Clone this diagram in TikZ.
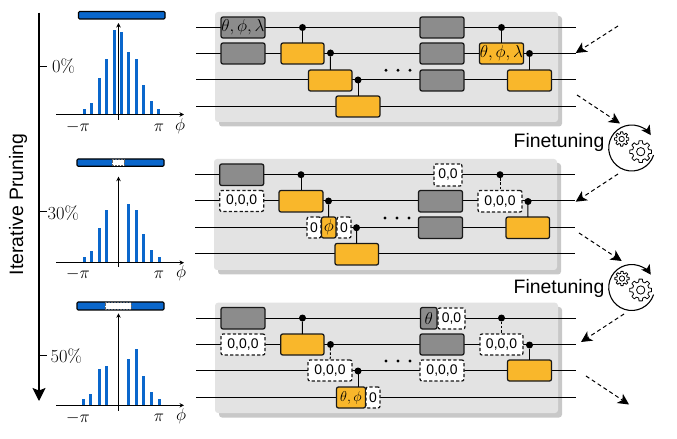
\documentclass[tikz,border=0pt]{standalone}
\usepackage{fontspec}
\usetikzlibrary{arrows.meta}
\newfontfamily\sff{Liberation Sans}
\definecolor{panelc}{HTML}{E3E3E3}
\definecolor{shadowc}{HTML}{C8C8C8}
\definecolor{grayg}{HTML}{8C8C8C}
\definecolor{yellowg}{HTML}{F9B72B}
\definecolor{blueb}{HTML}{0A67CC}
\tikzset{
  panelbox/.style={fill=panelc,rounded corners=3bp},
  panelshadow/.style={fill=shadowc,rounded corners=3bp},
  wire/.style={line width=1bp,black},
  gbase/.style={rectangle,rounded corners=2bp,draw=black!90,line width=1.25bp,inner sep=0pt,outer sep=0pt,font=\fontsize{16}{16}\selectfont},
  grayz/.style={gbase,fill=grayg},
  yellz/.style={gbase,fill=yellowg},
  zeroz/.style={gbase,fill=white,dashed,dash pattern=on 3.2bp off 2.2bp,font=\sff\fontsize{14}{14}\selectfont},
  ctrl/.style={circle,fill=black,inner sep=0pt,outer sep=0pt,minimum size=7bp},
  tinydot/.style={circle,fill=black,inner sep=0pt,outer sep=0pt,minimum size=3.2bp},
  ctrlline/.style={line width=1bp,black},
  ctrldash/.style={line width=1bp,black,dash pattern=on 2.5bp off 1.8bp},
  flow/.style={line width=1bp,dash pattern=on 4bp off 3bp,-{Stealth[length=11bp,width=11bp,inset=3bp]}},
  barz/.style={rectangle,rounded corners=1.2bp,draw=black,line width=1.1bp,fill=blueb,inner sep=0pt,outer sep=0pt},
  holez/.style={rectangle,fill=white,draw=black!60,line width=.5bp,densely dotted,inner sep=0pt,outer sep=0pt},
  hist/.style={line width=3bp,draw=blueb},
  axisl/.style={line width=1bp,-{Stealth[length=4.5bp,width=4.5bp]}},
  ticklab/.style={inner sep=0pt,font=\fontsize{18}{18}\selectfont},
  pct/.style={inner sep=0pt,font=\fontsize{18.5}{18.5}\selectfont,anchor=west},
  bigsans/.style={inner sep=0pt,font=\sff\fontsize{19.5}{19.5}\selectfont},
}
\newcommand{\gbox}[7]{\node[#1,minimum width={(#5-#3)*1bp},minimum height={(#6-#4)*1bp}] (#2) at ({(#3+#5)/2},{(#4+#6)/2}) {#7};}
\newcommand{\wireline}[4]{\coordinate (#1l) at (#2,#4);\coordinate (#1r) at (#3,#4);\draw[wire] (#1l) -- (#1r);}
\newcommand{\gearshape}[5]{%
\begin{scope}[shift={(#1,#2)},line width=.8bp,line join=round]
\draw (0-14:#3)
 \foreach \i in {0,...,#5}{ -- ({\i*45-14}:#3) -- ({\i*45-9}:#4) -- ({\i*45+9}:#4) -- ({\i*45+14}:#3) -- ({\i*45+31}:#3)} -- cycle;
\draw (0,0) circle[radius={#3*.5}];
\end{scope}}
\newcommand{\histbar}[2]{\draw[hist] (#1,\histbase) -- (#1,#2);}
\begin{document}
\begin{tikzpicture}[x=1bp,y=-1bp]
\useasboundingbox (0,0) rectangle (677,439);
% Left arrow
\coordinate (pruneTop) at (39,12.7);
\coordinate (pruneEnd) at (39,401);
\draw[line width=1.2bp,-{Stealth[length=13bp,width=13bp,inset=2.5bp]}] (pruneTop) -- (pruneEnd);
\node[bigsans,rotate=90] (prunelab) at (18,204.5) {Iterative Pruning};
\node[pct] (pA) at (52,66.5) {0\%};
\node[pct] (pB) at (47.5,213) {30\%};
\node[pct] (pC) at (50.5,356.5) {50\%};
\coordinate (tA) at (39,66.3);\coordinate (tAe) at (47,66.3);
\coordinate (tB) at (39,212);\coordinate (tBe) at (47,212);
\coordinate (tC) at (39,355.7);\coordinate (tCe) at (47,355.7);
\draw[line width=1bp] (tA) -- (tAe);
\draw[line width=1bp] (tB) -- (tBe);
\draw[line width=1bp] (tC) -- (tCe);
% Plot 1
\gbox{barz}{barA}{78.5}{11.5}{165}{19}{}
\def\histbase{114.5}
\histbar{84.3}{109.3}\histbar{91.7}{102.7}\histbar{99.3}{78.3}\histbar{106.7}{58.7}\histbar{114}{30}\histbar{121.3}{31.7}\histbar{128.7}{52}\histbar{136}{58.7}\histbar{143.7}{84.7}\histbar{151}{101}\histbar{158.3}{109.3}
\coordinate (xaL) at (56,114.5);\coordinate (xaR) at (184,114.5);\coordinate (yaB) at (118.5,120);\coordinate (yaT) at (118.5,23);
\draw[axisl] (xaL) -- (xaR);\draw[axisl] (yaB) -- (yaT);
\node[ticklab] (mpA) at (78,127.5) {$-\pi$};\node[ticklab] (ppA) at (159,127.5) {$\pi$};\node[ticklab] (phA) at (180,126.5) {$\phi$};
% Plot 2
\gbox{barz}{barB}{77}{159}{164}{166.3}{}
\gbox{holez}{holeB}{112}{159.6}{124}{165.7}{}
\def\histbase{262.7}
\histbar{84.3}{256.7}\histbar{91.7}{251.3}\histbar{99.3}{228.3}\histbar{106.7}{210}\histbar{128.7}{203.7}\histbar{136}{210}\histbar{143.7}{234.3}\histbar{151}{250}\histbar{159}{256.7}
\coordinate (xbL) at (56,262.7);\coordinate (xbR) at (184,262.7);\coordinate (ybB) at (118.5,267);\coordinate (ybT) at (118.5,176.7);
\draw[axisl] (xbL) -- (xbR);\draw[axisl] (ybB) -- (ybT);
\node[ticklab] (mpB) at (78,274.5) {$-\pi$};\node[ticklab] (ppB) at (159,274.5) {$\pi$};\node[ticklab] (phB) at (181,273.5) {$\phi$};
% Plot 3
\gbox{barz}{barC}{77}{302}{164}{310}{}
\gbox{holez}{holeC}{105}{302.6}{131}{309.4}{}
\def\histbase{405.3}
\histbar{83}{399.3}\histbar{90.3}{394.3}\histbar{99.3}{369}\histbar{106.7}{365.7}\histbar{128.7}{359}\histbar{136}{349.3}\histbar{143.7}{375.7}\histbar{151.3}{392.3}\histbar{159.3}{399.3}
\coordinate (xcL) at (56,405.3);\coordinate (xcR) at (184,405.3);\coordinate (ycB) at (118.5,410.7);\coordinate (ycT) at (118.5,313.3);
\draw[axisl] (xcL) -- (xcR);\draw[axisl] (ycB) -- (ycT);
\node[ticklab] (mpC) at (78,418) {$-\pi$};\node[ticklab] (ppC) at (159,418) {$\pi$};\node[ticklab] (phC) at (181,416.5) {$\phi$};
% ---------- Panel 1
\fill[panelshadow] (219,16) rectangle (562,126.5);
\fill[panelbox] (215,12) rectangle (558,122);
\wireline{aw1}{196}{576}{27.5}\wireline{aw2}{196}{576}{53.3}\wireline{aw3}{196}{576}{80}\wireline{aw4}{196}{576}{106.5}
\gbox{grayz}{a1}{221}{17}{265}{38}{$\theta,\phi,\lambda$}
\gbox{grayz}{a2}{221}{43}{265}{64}{}
\gbox{yellz}{a3}{281}{43}{324}{64}{}
\gbox{yellz}{a4}{308.5}{70}{352}{91}{}
\gbox{yellz}{a5}{336}{96}{380}{117}{}
\gbox{grayz}{a6}{420}{17}{464}{38}{}
\gbox{grayz}{a7}{420}{43}{464}{64}{}
\gbox{grayz}{a8}{420}{70}{464}{91}{}
\gbox{yellz}{a9}{479.5}{43}{523.5}{64}{$\theta,\phi,\lambda$}
\gbox{yellz}{a10}{507.5}{70}{551.5}{91}{}
\node[ctrl] (ac1) at (302.5,27.5) {};\node[ctrl] (ac2) at (330.5,53) {};\node[ctrl] (ac3) at (358,80) {};\node[ctrl] (ac4) at (501.5,27.5) {};\node[ctrl] (ac5) at (529.5,53.5) {};
\draw[ctrlline] (ac1) -- (a3);\draw[ctrlline] (ac2) -- (a4);\draw[ctrlline] (ac3) -- (a5);\draw[ctrlline] (ac4) -- (a9);\draw[ctrlline] (ac5) -- (a10);
\node[tinydot] (ad1) at (386,70.3) {};\node[tinydot] (ad2) at (398,70.3) {};\node[tinydot] (ad3) at (410,70.3) {};
% ---------- Panel 2
\fill[panelshadow] (218,163) rectangle (561,274.5);
\fill[panelbox] (214,159) rectangle (557,270);
\wireline{bw1}{195}{575}{174.7}\wireline{bw2}{195}{575}{201}\wireline{bw3}{195}{575}{227.7}\wireline{bw4}{195}{575}{254}
\gbox{grayz}{b1}{219.7}{164}{263.7}{185.5}{}
\gbox{zeroz}{b2}{219.7}{190.5}{263.7}{211.5}{0,0,0}
\gbox{yellz}{b3}{279}{190.5}{323}{212}{}
\gbox{zeroz}{b4}{307}{217}{321}{238}{0}
\gbox{yellz}{b5}{321.5}{217}{336}{238}{$\phi$}
\gbox{zeroz}{b6}{337}{217}{351}{238}{0}
\gbox{yellz}{b7}{335}{243.5}{378.5}{265}{}
\gbox{zeroz}{b8}{434}{164}{462}{186}{0,0}
\gbox{grayz}{b9}{418.5}{190.5}{462.5}{212}{}
\gbox{grayz}{b10}{418.5}{217}{462.5}{238.5}{}
\gbox{zeroz}{b11}{478}{190.5}{522}{212}{0,0,0}
\gbox{yellz}{b12}{506}{217}{549.5}{238.5}{}
\node[ctrl] (bc1) at (301,174.7) {};\node[ctrl] (bc2) at (328.5,201) {};\node[ctrl] (bc3) at (356.5,227.7) {};\node[ctrl] (bc4) at (500,174.7) {};\node[ctrl] (bc5) at (528,201.5) {};
\draw[ctrlline] (bc1) -- (b3);\draw[ctrlline] (bc2) -- (b5);\draw[ctrlline] (bc3) -- (b7);\draw[ctrldash] (bc4) -- (b11);\draw[ctrlline] (bc5) -- (b12);
\node[tinydot] (bd1) at (385,218) {};\node[tinydot] (bd2) at (397,218) {};\node[tinydot] (bd3) at (409,218) {};
% ---------- Panel 3
\fill[panelshadow] (219,307) rectangle (562,417.5);
\fill[panelbox] (215,302.7) rectangle (558,413);
\wireline{cw1}{196}{576}{318}\wireline{cw2}{196}{576}{344.3}\wireline{cw3}{196}{576}{370.7}\wireline{cw4}{196}{576}{397.3}
\gbox{grayz}{c1}{221}{307.5}{265}{329}{}
\gbox{zeroz}{c2}{221}{334}{265}{355}{0,0,0}
\gbox{yellz}{c3}{280.7}{334}{324}{355}{}
\gbox{zeroz}{c4}{308}{360}{352}{381}{0,0,0}
\gbox{yellz,font=\fontsize{15}{15}\selectfont}{c5}{336.5}{387}{365.5}{408}{$\theta,\phi$}
\gbox{zeroz}{c6}{366}{387}{380}{408}{0}
\gbox{grayz}{c7}{420.5}{307.5}{437}{329}{$\theta$}
\gbox{zeroz}{c8}{438}{308}{465}{329}{0,0}
\gbox{grayz}{c9}{420}{334}{464}{355}{}
\gbox{zeroz}{c10}{420}{360}{464}{381}{0,0,0}
\gbox{zeroz}{c11}{480}{334}{523}{355}{0,0,0}
\gbox{yellz}{c12}{507.5}{360}{551.5}{381}{}
\node[ctrl] (cc1) at (302.5,318) {};\node[ctrl] (cc2) at (330.5,344.5) {};\node[ctrl] (cc3) at (358,371) {};\node[ctrl] (cc4) at (501.5,318) {};\node[ctrl] (cc5) at (529.5,345) {};
\draw[ctrlline] (cc1) -- (c3);\draw[ctrldash] (cc2) -- (c4);\draw[ctrlline] (cc3.center) -- (cc3.center |- c5.north);\draw[ctrldash] (cc4) -- (c11);\draw[ctrlline] (cc5) -- (c12);
\node[tinydot] (cd1) at (386,361) {};\node[tinydot] (cd2) at (398,361) {};\node[tinydot] (cd3) at (410,361) {};
% ---------- Flow arrows
\coordinate (f1s) at (618,26);\coordinate (f1e) at (575.7,53);
\coordinate (f2s) at (577,95);\coordinate (f2e) at (620,123.5);
\coordinate (f3s) at (618,174);\coordinate (f3e) at (575.7,201.7);
\coordinate (f4s) at (579,233);\coordinate (f4e) at (621.7,261);
\coordinate (f5s) at (624,314);\coordinate (f5e) at (581,342);
\coordinate (f6s) at (586,376);\coordinate (f6e) at (629,404.5);
\draw[flow] (f1s) -- (f1e);\draw[flow] (f2s) -- (f2e);\draw[flow] (f3s) -- (f3e);\draw[flow] (f4s) -- (f4e);\draw[flow] (f5s) -- (f5e);\draw[flow] (f6s) -- (f6e);
% ---------- Finetuning
\node[bigsans] (ftA) at (559,142) {Finetuning};
\node[bigsans] (ftB) at (559,288) {Finetuning};
\draw[line width=1.1bp,-{Stealth[length=9.5bp,width=10bp,inset=2.5bp]}] (631.7,148) ++(18:23) arc[start angle=18,end angle=326,radius=23];
\draw[line width=1.1bp,-{Stealth[length=9.5bp,width=10bp,inset=2.5bp]}] (631.7,287.5) ++(18:23) arc[start angle=18,end angle=326,radius=23];
\gearshape{621.7}{139}{5.3}{7.2}{7}
\gearshape{640.7}{151.7}{8.3}{11}{7}
\gearshape{622}{278.5}{5.3}{7.2}{7}
\gearshape{640.7}{290}{8.3}{11}{7}
\end{tikzpicture}
\end{document}
